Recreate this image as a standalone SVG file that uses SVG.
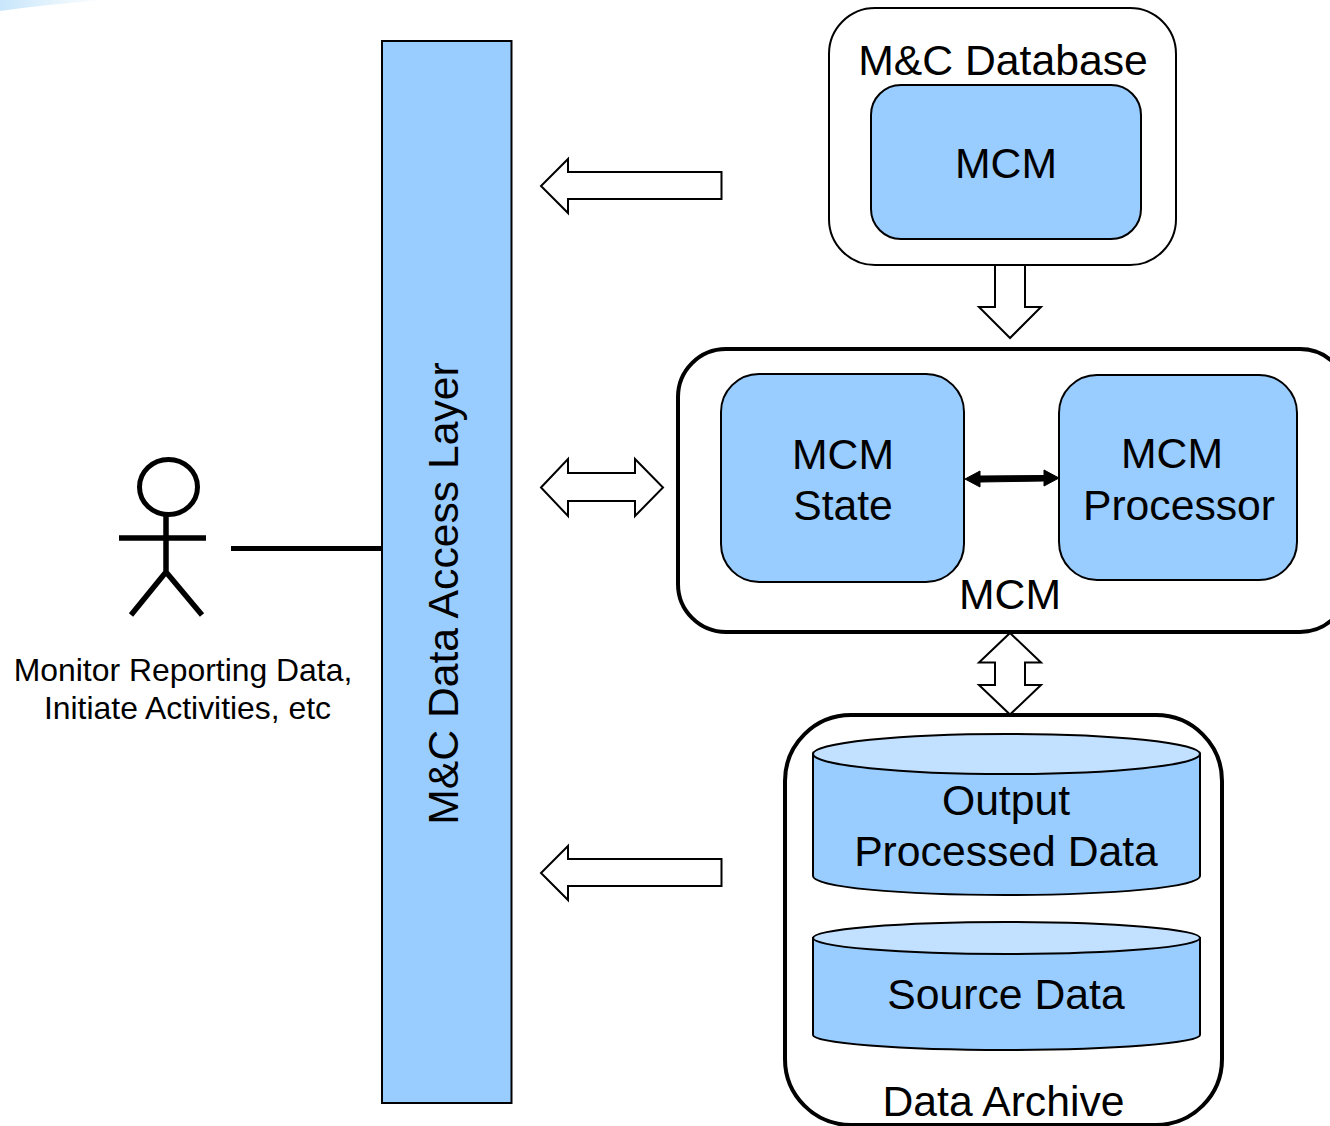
<svg xmlns="http://www.w3.org/2000/svg" width="1330" height="1126" viewBox="0 0 1330 1126">
<style>
text{font-family:"Liberation Sans",Arial,sans-serif;fill:#000;text-anchor:middle;font-size:42.7px}
.blue{fill:#99ccff;stroke:#000;stroke-width:2}
.cap{fill:#c2e0ff;stroke:#000;stroke-width:2}
.outer{fill:#fff;stroke:#000;stroke-width:2}
.thick{fill:#fff;stroke:#000;stroke-width:4}
.arr{fill:#fff;stroke:#000;stroke-width:2;stroke-linejoin:miter}
.line{fill:none;stroke:#000;stroke-width:5.500}
.small{font-size:31.9px}
</style>
<defs><linearGradient id="sw" x1="0" x2="1" y1="0" y2="0"><stop offset="0" stop-color="#c8e6fb"/><stop offset="1" stop-color="#ffffff"/></linearGradient></defs>
<path d="M0 0H105Q50 4 0 11Z" fill="url(#sw)"/>
<g id="data-access-layer"><rect class="blue" x="382" y="41" width="129.500" height="1062"/><text transform="translate(458 593.500) rotate(-90)">M&amp;C Data Access Layer</text></g>
<g id="actor"><ellipse cx="168.500" cy="487" rx="29" ry="27.500" fill="#fff" stroke="#000" stroke-width="5"/><path class="line" d="M166 516V572M119 538H206M166 572L131 615M166 572L202 615"/><text class="small" x="183" y="680.500">Monitor Reporting Data,</text><text class="small" x="187.500" y="719">Initiate Activities, etc</text></g>
<g id="mc-database"><rect class="outer" x="829" y="8" width="347" height="257" rx="46"/><text x="1003" y="75">M&amp;C Database</text><rect class="blue" x="871" y="85" width="270" height="154" rx="30"/><text x="1006" y="178">MCM</text></g>
<g id="mcm"><rect class="thick" x="678" y="349" width="670" height="283" rx="48"/><text x="1010" y="609">MCM</text></g>
<g id="mcm-state"><rect class="blue" x="721" y="374" width="243" height="208" rx="38"/><text x="843" y="469">MCM</text><text x="843" y="520">State</text></g>
<g id="mcm-processor"><rect class="blue" x="1059" y="375" width="238" height="205" rx="38"/><text x="1172" y="468">MCM</text><text x="1179" y="520">Processor</text></g>
<g id="data-archive"><rect class="thick" x="785" y="715" width="437" height="410" rx="66"/><text x="1003.500" y="1116">Data Archive</text></g>
<g id="output-processed-data"><path class="blue" d="M813 754V876C813 887 900 895 1006 895S1200 887 1200 876V754Z"/><ellipse class="cap" cx="1006.500" cy="754" rx="193.500" ry="20"/><text x="1006" y="815">Output</text><text x="1006" y="866">Processed Data</text></g>
<g id="source-data"><path class="blue" d="M813 938V1035C813 1043 900 1050 1006 1050S1200 1043 1200 1035V938Z"/><ellipse class="cap" cx="1006.500" cy="938" rx="193.500" ry="16"/><text x="1006" y="1009">Source Data</text></g>
<g id="connectors">
<path class="arr" d="M721.500 172V199H568V213L541 186L568 159V172Z"/>
<path class="arr" d="M721.500 859V886H568V900L541 873L568 846V859Z"/>
<path class="arr" d="M541 487.500L568 459V473H635V459L663 487.500L635 516V501H568V516Z"/>
<path class="arr" d="M1010 338L979 307H995V265H1025V307H1041Z"/>
<path class="arr" d="M1010 633L1041 662.500H1025V685H1041L1010 714.500L979 685H995V662.500H979Z"/>
<path d="M965 479L980 471V476L1044 475.500V470L1059 478L1044 486V481L980 482V487Z" fill="#000" stroke="#000"/>
<path d="M231 548.500H382" fill="none" stroke="#000" stroke-width="5"/>
</g>
</svg>
